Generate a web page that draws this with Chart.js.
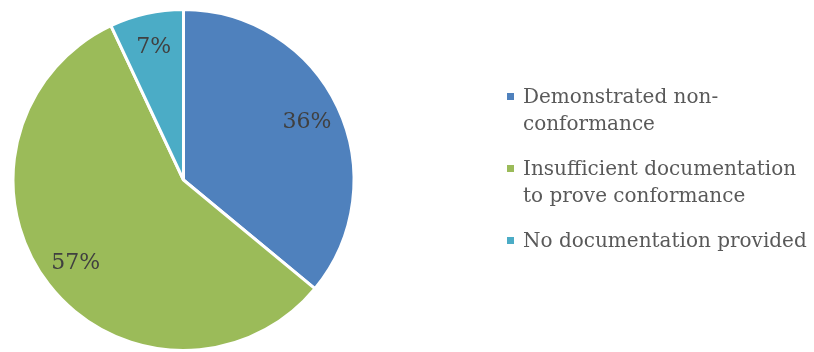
<!DOCTYPE html>
<html>
<head>
<meta charset="utf-8">
<script src="https://cdn.jsdelivr.net/npm/chart.js@4/dist/chart.umd.min.js"></script>
<style>
  html, body { margin: 0; padding: 0; background: #fff; }
  #wrap { position: relative; width: 814px; height: 352px; }
  #legend {
    position: absolute; left: 507px; top: 83px; width: 307px;
    font-family: "DejaVu Serif", serif; font-size: 20px; color: #595959;
    line-height: 27px;
  }
  .item { position: relative; padding-left: 16px; margin-bottom: 18px; }
  .box { position: absolute; left: 0; top: 10px; width: 7px; height: 7px; }
</style>
</head>
<body>
<div id="wrap">
  <canvas id="pieChart" width="814" height="352"></canvas>
  <div id="legend"></div>
</div>
<script>
const categories = ['Demonstrated non-\nconformance', 'Insufficient documentation\nto prove conformance', 'No documentation provided'];
const shares = [36, 57, 7];
const sliceColors = ['#4F81BD', '#9BBB59', '#4BACC6'];

// Percent labels drawn inside each slice
const sliceLabels = {
    id: 'sliceLabels',
    afterDatasetsDraw(chart) {
        const ctx = chart.ctx;
        const arcs = chart.getDatasetMeta(0).data;
        ctx.save();
        ctx.font = '22px "DejaVu Serif", serif';
        ctx.fillStyle = '#404040';
        ctx.textAlign = 'center';
        ctx.textBaseline = 'middle';
        arcs.forEach((arc, i) => {
            const mid = (arc.startAngle + arc.endAngle) / 2;
            const r = arc.outerRadius * 0.8;
            ctx.fillText(shares[i] + '%', arc.x + Math.cos(mid) * r, arc.y + Math.sin(mid) * r);
        });
        ctx.restore();
    }
};

new Chart(document.getElementById('pieChart'), {
    type: 'pie',
    data: {
        labels: categories,
        datasets: [{
            data: shares,
            backgroundColor: sliceColors,
            borderColor: '#ffffff',
            borderWidth: 3
        }]
    },
    options: {
        responsive: false,
        animation: false,
        layout: { padding: { left: 11, right: 458, top: 8, bottom: 0 } },
        plugins: {
            legend: { display: false },
            tooltip: { enabled: false }
        }
    },
    plugins: [sliceLabels]
});

// Legend built from the same arrays
const legend = document.getElementById('legend');
categories.forEach((name, i) => {
    const item = document.createElement('div');
    item.className = 'item';
    const box = document.createElement('span');
    box.className = 'box';
    box.style.background = sliceColors[i];
    item.appendChild(box);
    name.split('\n').forEach((line, j) => {
        if (j > 0) item.appendChild(document.createElement('br'));
        item.appendChild(document.createTextNode(line));
    });
    legend.appendChild(item);
});
</script>
</body>
</html>
